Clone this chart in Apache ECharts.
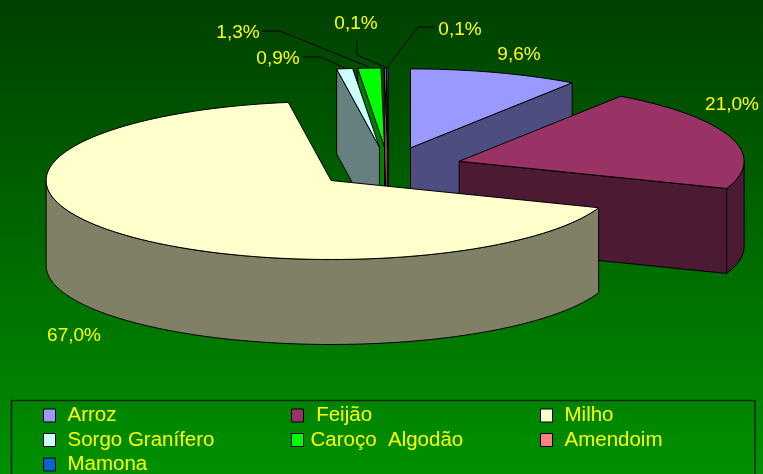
<!DOCTYPE html>
<html>
<head>
<meta charset="utf-8">
<script src="https://cdn.jsdelivr.net/npm/echarts@6/dist/echarts.min.js"></script>
<style>
    html, body { margin: 0; padding: 0; background: #008000; }
    #main { width: 763px; height: 474px; }
</style>
</head>
<body>
<div id="main"></div>
<script>
const categories = ['Arroz', ' Feijão', 'Milho', 'Sorgo Granífero', 'Caroço  Algodão', 'Amendoim', 'Mamona'];
const shares = [9.6, 21.0, 67.0, 0.9, 1.3, 0.1, 0.1];
const colorList = ['#9999ff', '#993366', '#ffffcc', '#ccffff', '#00ff00', '#ff8080', '#0066cc'];
// back to front, so the big slice covers the others
const drawOrder = [6, 5, 4, 3, 0, 1, 2];
// label centre, then the elbow points of the leader line (if any)
const labelPos = [[519, 55], [732, 105], [74, 336], [278, 59], [238, 33], [356, 24], [460, 30]];
const leaderPts = [
    [],
    [],
    [],
    [[303, 57], [320, 57]],
    [[262, 31], [280, 31]],
    [[357, 39], [357, 55]],
    [[435, 27], [418, 27]],
];

const FONT = '"Liberation Sans", Arial, sans-serif';
const pie = { cx: 388.5, cy: 167.5, rx: 285, ry: 79, depth: 85, explode: 0.26 };

const total = shares.reduce((a, b) => a + b, 0);
let acc = 0;
const slices = shares.map((v) => {
    const start = (acc / total) * 360;
    acc += v;
    return { start, end: (acc / total) * 360 };
});

const rad = (d) => (d * Math.PI) / 180;

function sliceCenter(s) {
    const mid = rad((s.start + s.end) / 2);
    return [
        pie.cx + pie.explode * pie.rx * Math.sin(mid),
        pie.cy - pie.explode * pie.ry * Math.cos(mid),
    ];
}
function rimPoint(c, deg, drop) {
    return [c[0] + pie.rx * Math.sin(rad(deg)), c[1] - pie.ry * Math.cos(rad(deg)) + (drop || 0)];
}
function arcPoints(c, from, to, drop) {
    const pts = [];
    const n = Math.max(1, Math.ceil((to - from) / 2));
    for (let i = 0; i <= n; i++) {
        pts.push(rimPoint(c, from + ((to - from) * i) / n, drop));
    }
    return pts;
}

function renderSlice(idx) {
    const s = slices[idx];
    const c = sliceCenter(s);
    const top = colorList[idx];
    const side = echarts.color.lerp(0.5, [top, '#000000']);
    const line = { stroke: '#000', lineWidth: 1 };
    const children = [];
    const face = (points, fill) => {
        children.push({ type: 'polygon', shape: { points }, style: { fill, ...line } });
    };
    const radial = (deg) => {
        const p = rimPoint(c, deg);
        face([c, p, [p[0], p[1] + pie.depth], [c[0], c[1] + pie.depth]], side);
    };

    if (Math.sin(rad(s.start)) < -1e-6) radial(s.start);
    if (Math.sin(rad(s.end)) > 1e-6) radial(s.end);

    // outer wall, only the part turned to the viewer
    const from = Math.max(s.start, 90);
    const to = Math.min(s.end, 270);
    if (to > from) {
        const upper = arcPoints(c, from, to, 0);
        const lower = arcPoints(c, from, to, pie.depth).reverse();
        face(upper.concat(lower), side);
    }

    face([c].concat(arcPoints(c, s.start, s.end, 0)), top);

    // leader line runs to the rim of the slice
    const elbows = leaderPts[idx];
    if (elbows.length) {
        const mid = (s.start + s.end) / 2;
        children.push({
            type: 'polyline',
            shape: { points: elbows.concat([rimPoint(c, mid, -1)]) },
            style: { fill: 'none', stroke: '#000', lineWidth: 1 },
        });
    }
    children.push({
        type: 'text',
        x: labelPos[idx][0],
        y: labelPos[idx][1],
        style: {
            text: shares[idx].toFixed(1).replace('.', ',') + '%',
            fill: '#ffff00',
            font: '19px ' + FONT,
            align: 'center',
            verticalAlign: 'middle',
        },
    });
    return { type: 'group', children };
}

const seriesData = drawOrder.map((idx) => ({
    name: categories[idx],
    type: 'custom',
    coordinateSystem: 'none',
    silent: true,
    animation: false,
    itemStyle: { color: colorList[idx] },
    data: [shares[idx]],
    renderItem: () => renderSlice(idx),
}));

function legendColumn(left, names, textPad) {
    return {
        left,
        top: 405,
        height: 120,
        orient: 'vertical',
        icon: 'rect',
        itemWidth: 12,
        itemHeight: 13,
        itemGap: 3.5,
        padding: 0,
        selectedMode: false,
        data: names,
        itemStyle: { borderColor: '#000', borderWidth: 1 },
        textStyle: {
            color: '#ffff00',
            fontFamily: FONT,
            fontSize: 20.5,
            padding: [0, 0, 0, textPad],
        },
    };
}

const option = {
    backgroundColor: new echarts.graphic.LinearGradient(0, 0, 0, 1, [
        { offset: 0, color: '#004000' },
        { offset: 1, color: '#009000' },
    ]),
    legend: [
        legendColumn(43, [categories[0], categories[3], categories[6]], 7),
        legendColumn(291, [categories[1], categories[4]], 2),
        legendColumn(540, [categories[2], categories[5]], 7),
    ],
    graphic: [
        {
            type: 'rect',
            silent: true,
            shape: { x: 11.5, y: 400.5, width: 743.5, height: 100 },
            style: { fill: 'none', stroke: '#002800', lineWidth: 1.5 },
        },
    ],
    series: seriesData,
};

let myChart = echarts.init(document.getElementById('main'));
myChart.setOption(option);
</script>
</body>
</html>
